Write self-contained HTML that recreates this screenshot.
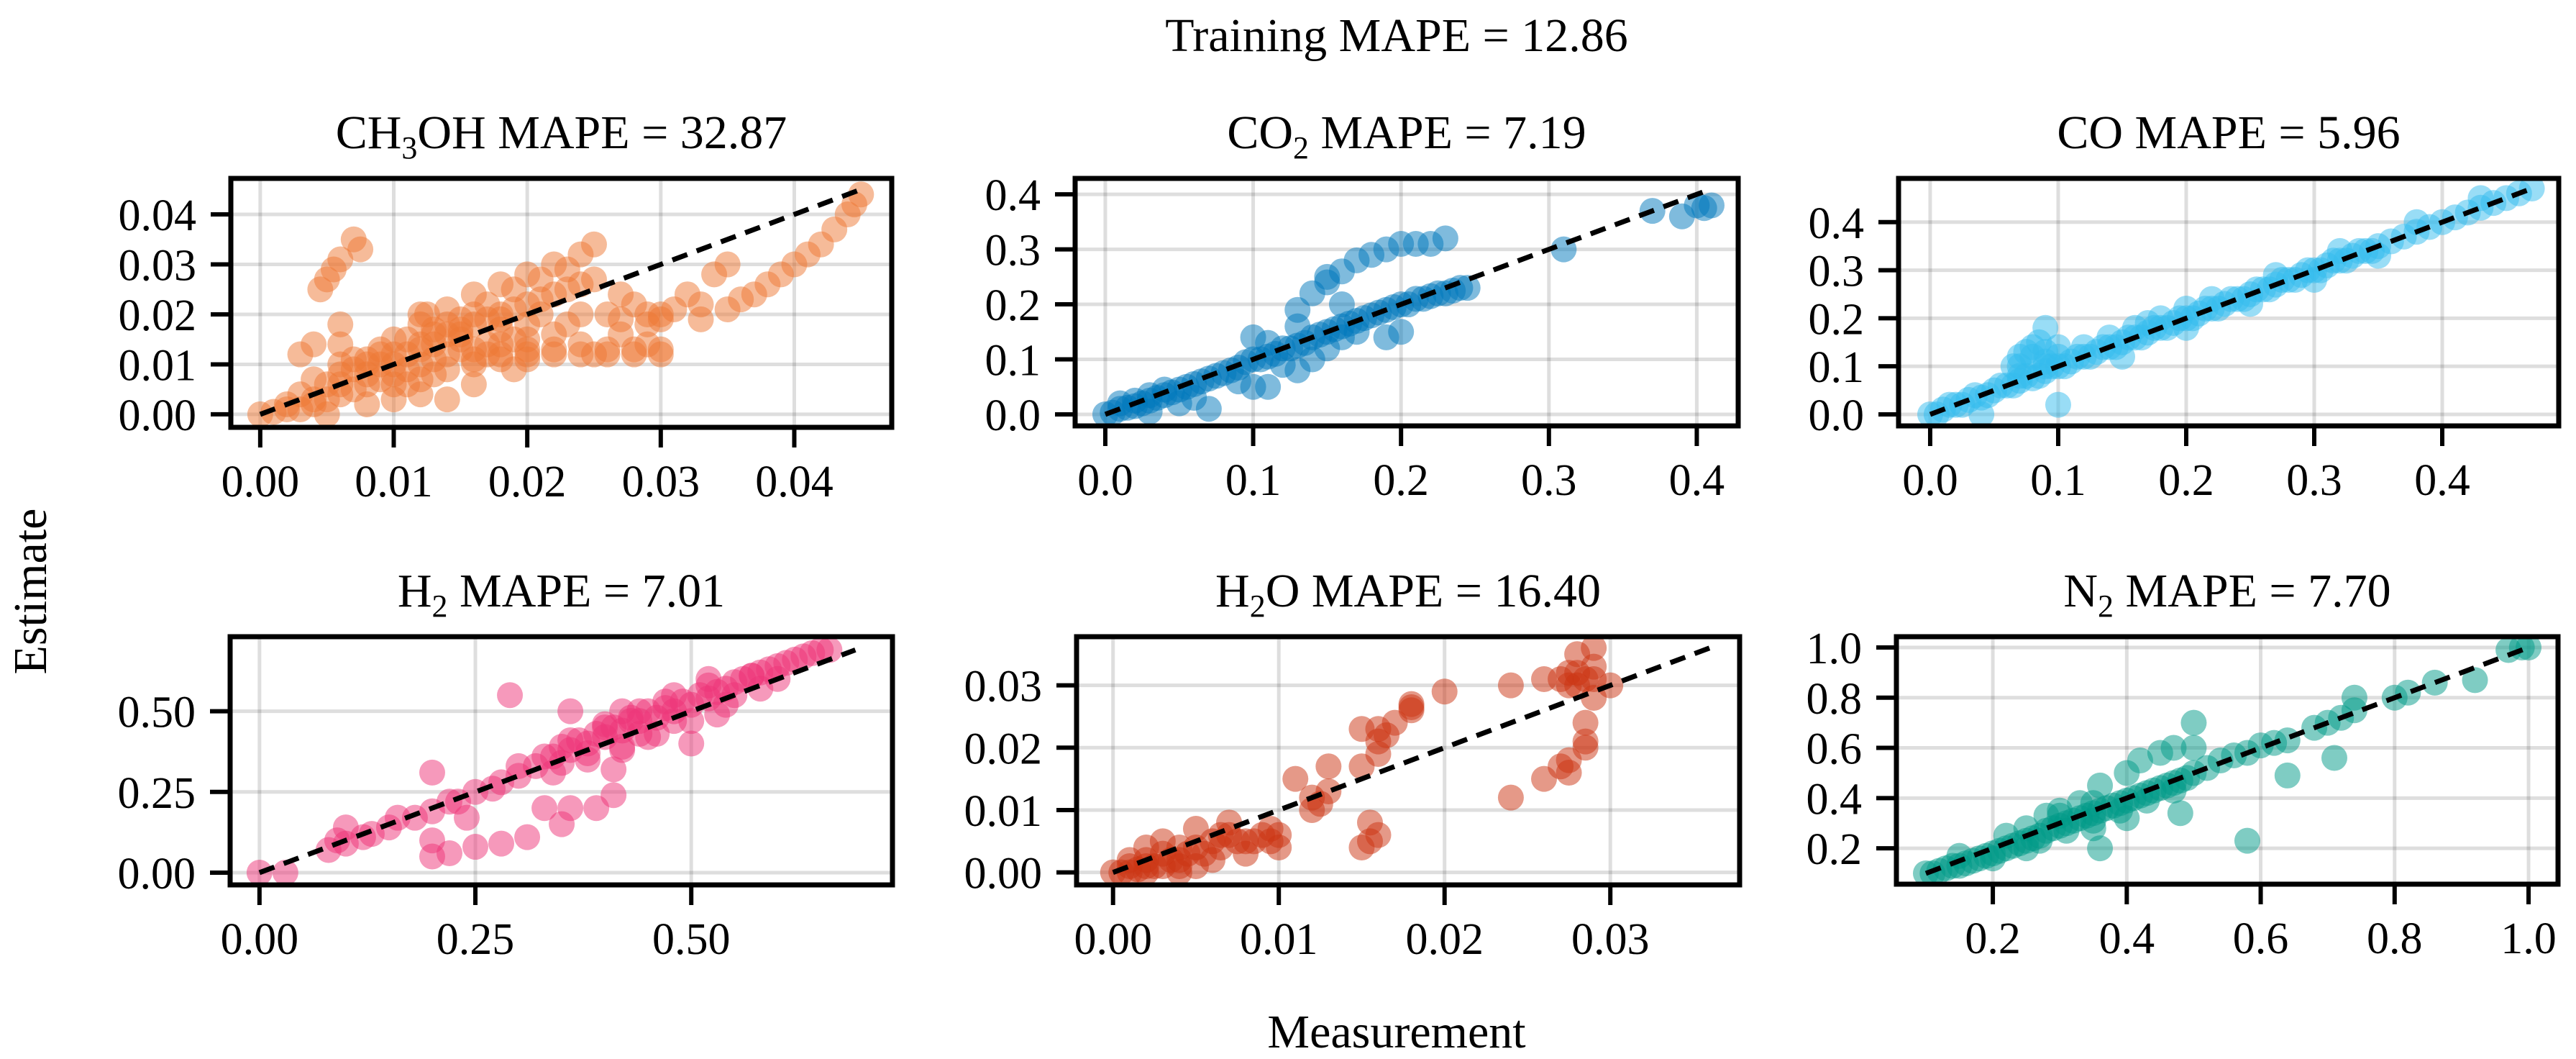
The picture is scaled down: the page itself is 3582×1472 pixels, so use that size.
<!DOCTYPE html>
<html><head><meta charset="utf-8"><style>
html,body{margin:0;padding:0;background:#fff;}
svg{display:block;font-family:"Liberation Serif",serif;}
</style></head><body>
<svg id="fig" width="3582" height="1472" viewBox="0 0 3582 1472" xmlns="http://www.w3.org/2000/svg">
<rect width="3582" height="1472" fill="#fff"/>
<text x="1942" y="71" font-size="66" text-anchor="middle">Training MAPE = 12.86</text>
<text x="1942" y="1456" font-size="66" text-anchor="middle">Measurement</text>
<text x="0" y="0" font-size="66" text-anchor="middle" transform="translate(64,822) rotate(-90)">Estimate</text>
</svg>
<script>
// ---- data (measurement, estimate) per species ----
const ch3ohX=[0,0.001,0.002,0.003,0.004,0.005,0.006,0.007,0.008,0.009,0.01,0.011,0.012,0.013,0.014,0.015,0.016,0.017,0.018,0.019,0.02,0.022,0.024,0.026,0.028,0.03,0.012,0.014,0.016,0.018,0.02,0.022,0.024,0.025,0.03,0.032,0.034,0.035,0.03,0.033,0.035,0.037,0.039,0.041,0.043,0.0445,0.045,0.011,0.013,0.015,0.018,0.021,0.024,0.027,0.029,0.0045,0.005,0.0055,0.006,0.007,0.0075,0.006,0.005,0.008,0.012,0.014,0.016,0.01,0.019,0.02,0.004,0.003,0.006,0.009,0.008,0.01,0.012,0.015,0.017,0.013,0.011,0.016,0.018,0.02,0.022,0.025,0.027,0.029,
0.005,0.006,0.007,0.008,0.009,0.01,0.011,0.012,0.013,0.014,0.015,0.016,0.017,0.018,0.019,0.02,0.021,0.022,0.023,0.024,0.025,0.019,0.021,0.023,0.017,0.015,0.013,0.012,0.01,0.009,0.007,0.006,0.004,0.003,0.002,0.004,0.006,0.008,0.01,0.012,0.014,0.016,0.018,0.02,0.022,0.024,0.026,0.028,0.03,0.031,0.033,0.036,0.038,0.04,0.042,0.044,0.026,0.028,0.027,0.029,0.023,0.016,0.014,0.0125,0.018,0.02];
const ch3ohY=[0,0.0005,0.001,0.001,0.002,0.003,0.004,0.005,0.006,0.007,0.008,0.009,0.01,0.011,0.012,0.013,0.013,0.014,0.014,0.015,0.015,0.016,0.014,0.013,0.013,0.013,0.02,0.021,0.024,0.026,0.028,0.03,0.032,0.034,0.02,0.024,0.028,0.03,0.019,0.019,0.021,0.024,0.028,0.032,0.037,0.042,0.044,0.015,0.016,0.017,0.019,0.02,0.02,0.019,0.02,0.025,0.027,0.029,0.031,0.035,0.033,0.018,0,0.002,0.004,0.003,0.006,0.003,0.009,0.011,0.014,0.012,0.014,0.012,0.01,0.012,0.014,0.015,0.012,0.008,0.006,0.01,0.011,0.013,0.013,0.012,0.016,0.014,
0.006,0.008,0.009,0.011,0.01,0.01,0.012,0.013,0.014,0.016,0.016,0.018,0.019,0.02,0.021,0.022,0.023,0.024,0.025,0.026,0.027,0.025,0.027,0.029,0.022,0.019,0.017,0.018,0.015,0.013,0.011,0.01,0.007,0.004,0.002,0.003,0.006,0.008,0.006,0.007,0.009,0.011,0.012,0.012,0.012,0.012,0.012,0.012,0.012,0.021,0.022,0.023,0.026,0.03,0.034,0.04,0.02,0.022,0.024,0.018,0.018,0.02,0.018,0.02,0.017,0.018];
const co2X=[0,0.01,0.02,0.03,0.04,0.05,0.06,0.07,0.08,0.09,0.1,0.11,0.12,0.13,0.14,0.15,0.16,0.17,0.18,0.19,0.2,0.21,0.22,0.23,0.24,0.245,0.05,0.06,0.07,0.09,0.1,0.11,0.13,0.12,0.1,0.11,0.14,0.15,0.2,0.19,0.13,0.13,0.14,0.15,0.16,0.17,0.18,0.19,0.2,0.21,0.22,0.23,0.15,0.16,0.31,0.37,0.39,0.4,0.41,0.405,0.01,0.03,
0.005,0.015,0.025,0.035,0.045,0.055,0.065,0.075,0.085,0.095,0.105,0.115,0.125,0.135,0.145,0.155,0.165,0.175,0.185,0.195,0.205,0.215,0.225,0.235,0.16,0.17,0.02,0.03,0.04];
const co2Y=[0,0.01,0.015,0.025,0.035,0.045,0.055,0.065,0.075,0.085,0.1,0.105,0.12,0.125,0.14,0.15,0.16,0.17,0.18,0.19,0.2,0.21,0.215,0.22,0.23,0.23,0.02,0.03,0.01,0.06,0.05,0.05,0.08,0.09,0.14,0.13,0.1,0.12,0.15,0.14,0.19,0.16,0.22,0.24,0.26,0.28,0.29,0.3,0.31,0.31,0.31,0.32,0.25,0.2,0.3,0.37,0.36,0.38,0.38,0.375,0.02,0.005,
0.003,0.012,0.02,0.03,0.04,0.05,0.06,0.07,0.08,0.095,0.1,0.11,0.12,0.13,0.145,0.155,0.165,0.175,0.185,0.195,0.2,0.21,0.22,0.225,0.14,0.15,0.025,0.035,0.045];
const coX=[0,0.01,0.02,0.03,0.04,0.05,0.06,0.07,0.08,0.09,0.1,0.11,0.12,0.13,0.14,0.15,0.16,0.17,0.18,0.19,0.2,0.21,0.22,0.23,0.24,0.25,0.26,0.27,0.28,0.29,0.3,0.31,0.32,0.33,0.34,0.35,0.36,0.37,0.38,0.39,0.4,0.41,0.42,0.43,0.44,0.45,0.46,0.47,0.07,0.08,0.09,0.1,0.07,0.08,0.09,0.1,0.09,0.1,0.04,0.15,0.2,0.25,0.3,0.35,0.12,0.17,0.22,0.27,0.32,0.38,0.43,
0.005,0.015,0.025,0.035,0.045,0.055,0.065,0.075,0.085,0.095,0.105,0.115,0.125,0.135,0.145,0.155,0.165,0.175,0.185,0.195,0.205,0.215,0.225,0.235,0.245,0.255,0.265,0.275,0.285,0.295,0.305,0.315,0.325,0.335,0.345,0.065,0.075,0.085,0.07,0.09,0.16,0.18,0.2,0.14];
const coY=[0,0.01,0.02,0.03,0.035,0.05,0.06,0.07,0.075,0.09,0.1,0.11,0.12,0.13,0.14,0.15,0.16,0.17,0.18,0.19,0.2,0.21,0.22,0.23,0.24,0.25,0.26,0.27,0.28,0.29,0.3,0.31,0.32,0.33,0.34,0.35,0.36,0.37,0.38,0.39,0.4,0.41,0.42,0.43,0.44,0.45,0.46,0.47,0.1,0.12,0.13,0.14,0.12,0.14,0.11,0.12,0.18,0.02,0,0.12,0.18,0.23,0.28,0.33,0.14,0.19,0.24,0.29,0.34,0.4,0.45,
0.0,0.02,0.02,0.04,0.04,0.06,0.06,0.08,0.08,0.1,0.1,0.12,0.12,0.14,0.14,0.16,0.16,0.18,0.18,0.2,0.2,0.22,0.22,0.24,0.24,0.26,0.26,0.28,0.28,0.3,0.3,0.32,0.32,0.34,0.34,0.1,0.13,0.15,0.08,0.1,0.18,0.2,0.22,0.16];
const h2X=[0,0.03,0.08,0.1,0.12,0.15,0.18,0.2,0.22,0.25,0.28,0.3,0.32,0.34,0.36,0.38,0.4,0.42,0.44,0.46,0.48,0.5,0.52,0.54,0.56,0.58,0.6,0.62,0.64,0.66,0.2,0.22,0.25,0.28,0.31,0.35,0.36,0.39,0.41,0.33,0.24,0.2,0.2,0.29,0.36,0.43,0.41,0.5,0.53,0.42,0.45,0.4,0.42,0.47,0.52,0.57,0.1,0.16,0.35,0.38,0.44,0.48,0.55,0.6,
0.3,0.33,0.35,0.37,0.39,0.41,0.43,0.45,0.47,0.49,0.51,0.53,0.55,0.57,0.59,0.61,0.63,0.65,0.34,0.38,0.42,0.46,0.5,0.54,0.58,0.36,0.4,0.44,0.48,0.52,0.27,0.23,0.13,0.09];
const h2Y=[0,0,0.07,0.09,0.11,0.14,0.17,0.19,0.22,0.25,0.28,0.3,0.33,0.36,0.38,0.4,0.42,0.44,0.47,0.48,0.5,0.52,0.54,0.57,0.6,0.62,0.64,0.66,0.68,0.69,0.05,0.06,0.08,0.09,0.11,0.15,0.2,0.2,0.24,0.2,0.17,0.1,0.31,0.55,0.5,0.48,0.32,0.4,0.49,0.38,0.42,0.45,0.5,0.53,0.6,0.61,0.14,0.17,0.34,0.37,0.43,0.47,0.55,0.6,
0.33,0.36,0.39,0.41,0.43,0.45,0.47,0.5,0.51,0.53,0.55,0.56,0.59,0.61,0.63,0.65,0.67,0.69,0.31,0.35,0.39,0.43,0.47,0.52,0.57,0.41,0.46,0.5,0.55,0.58,0.26,0.22,0.12,0.1];
const h2oX=[0,0.001,0.002,0.003,0.004,0.005,0.006,0.007,0.008,0.009,0.01,0.003,0.002,0.004,0.006,0.008,0.01,0.005,0.007,0.012,0.012,0.013,0.011,0.013,0.015,0.016,0.016,0.015,0.016,0.018,0.018,0.017,0.0155,0.015,0.016,0.0155,0.02,0.024,0.026,0.027,0.028,0.029,0.028,0.029,0.028,0.029,0.0285,0.0285,0.0275,0.0285,0.0275,0.026,0.024,0.027,0.03,0.001,0.002,0.004,
0.0005,0.0015,0.0025,0.0035,0.0045,0.0055,0.0065,0.0075,0.0085,0.0095,0.001,0.002,0.003,0.004,0.005,0.0065,0.0095,0.0125,0.0275,0.0285,0.0275,0.029,0.018,0.0165];
const h2oY=[0,0.001,0.002,0.003,0.004,0.004,0.005,0.006,0.005,0.006,0.006,0.005,0.004,0.002,0.002,0.003,0.004,0.007,0.008,0.012,0.01,0.013,0.015,0.017,0.017,0.021,0.019,0.023,0.023,0.026,0.027,0.024,0.008,0.004,0.006,0.005,0.029,0.03,0.031,0.031,0.032,0.033,0.035,0.036,0.03,0.028,0.024,0.021,0.018,0.02,0.016,0.015,0.012,0.017,0.03,0.0,0.001,0.001,
0.0,0.0005,0.001,0.002,0.003,0.003,0.004,0.005,0.005,0.005,0.002,0.0,0.001,0.0,0.001,0.006,0.007,0.011,0.03,0.031,0.032,0.031,0.0265,0.022];
const n2X=[0.1,0.12,0.14,0.16,0.18,0.2,0.22,0.24,0.26,0.28,0.3,0.32,0.34,0.36,0.38,0.4,0.42,0.44,0.46,0.48,0.5,0.52,0.54,0.56,0.58,0.6,0.62,0.64,0.68,0.7,0.72,0.74,0.8,0.82,0.86,0.97,0.99,1.0,0.3,0.33,0.36,0.4,0.42,0.45,0.47,0.5,0.5,0.48,0.36,0.58,0.64,0.71,0.92,0.74,0.2,0.25,0.15,0.35,0.4,0.28,0.22,
0.11,0.13,0.15,0.17,0.19,0.21,0.23,0.25,0.27,0.29,0.31,0.33,0.35,0.37,0.39,0.41,0.43,0.45,0.47,0.49,0.27,0.31,0.35,0.39,0.43,0.47,0.25,0.3,0.35];
const n2Y=[0.1,0.11,0.13,0.14,0.16,0.18,0.2,0.22,0.24,0.27,0.29,0.31,0.33,0.35,0.37,0.39,0.41,0.43,0.45,0.47,0.5,0.52,0.55,0.57,0.58,0.61,0.62,0.63,0.68,0.7,0.72,0.75,0.8,0.82,0.86,0.99,1.0,1.0,0.35,0.38,0.45,0.5,0.55,0.58,0.6,0.6,0.7,0.34,0.2,0.23,0.49,0.56,0.87,0.8,0.16,0.2,0.17,0.28,0.32,0.33,0.25,
0.1,0.12,0.13,0.15,0.17,0.19,0.21,0.23,0.25,0.28,0.3,0.32,0.34,0.36,0.38,0.4,0.42,0.44,0.46,0.48,0.23,0.27,0.31,0.35,0.39,0.43,0.28,0.33,0.38];
// tick values and labels
const ticks1=[0,0.01,0.02,0.03,0.04], labels1=["0.00","0.01","0.02","0.03","0.04"];
const ticks2=[0,0.1,0.2,0.3,0.4], labels2=["0.0","0.1","0.2","0.3","0.4"];
const ticks4=[0,0.25,0.5], labels4=["0.00","0.25","0.50"];
const ticks5=[0,0.01,0.02,0.03], labels5=["0.00","0.01","0.02","0.03"];
const ticks6=[0.2,0.4,0.6,0.8,1.0], labels6=["0.2","0.4","0.6","0.8","1.0"];

const NS="http://www.w3.org/2000/svg";
const svg=document.getElementById('fig');
function mk(tag,attrs,parent){const e=document.createElementNS(NS,tag);for(const k in attrs)e.setAttribute(k,attrs[k]);(parent||svg).appendChild(e);return e;}

const panels=[
 {key:'ch3oh',title:['CH','3','OH MAPE = 32.87'],color:'#EE7733',xs:ch3ohX,ys:ch3ohY,box:[321,248,1240,594],xd:[-0.0022,0.0473],yd:[-0.0026,0.0472],xt:ticks1,xl:labels1,yt:ticks1,yl:labels1},
 {key:'co2',title:['CO','2',' MAPE = 7.19'],color:'#0077BB',xs:co2X,ys:co2Y,box:[1495,248,2417,592],xd:[-0.0204,0.428],yd:[-0.021,0.429],xt:ticks2,xl:labels2,yt:ticks2,yl:labels2},
 {key:'co',title:['CO MAPE = 5.96'],color:'#33BBEE',xs:coX,ys:coY,box:[2640,248,3558,592],xd:[-0.0247,0.491],yd:[-0.024,0.491],xt:ticks2,xl:labels2,yt:ticks2,yl:labels2},
 {key:'h2',title:['H','2',' MAPE = 7.01'],color:'#EE3377',xs:h2X,ys:h2Y,box:[320,885,1241,1230],xd:[-0.034,0.733],yd:[-0.038,0.731],xt:ticks4,xl:labels4,yt:ticks4,yl:labels4},
 {key:'h2o',title:['H','2','O MAPE = 16.40'],color:'#CC3311',xs:h2oX,ys:h2oY,box:[1497,885,2419,1230],xd:[-0.0022,0.0378],yd:[-0.002,0.0378],xt:ticks5,xl:labels5,yt:ticks5,yl:labels5},
 {key:'n2',title:['N','2',' MAPE = 7.70'],color:'#009988',xs:n2X,ys:n2Y,box:[2637,885,3557,1229],xd:[0.056,1.044],yd:[0.057,1.043],xt:ticks6,xl:labels6,yt:ticks6,yl:labels6}
];

panels.forEach((p,pi)=>{
 const [L,T,R,B]=p.box;
 const sx=v=>L+(v-p.xd[0])/(p.xd[1]-p.xd[0])*(R-L);
 const sy=v=>B-(v-p.yd[0])/(p.yd[1]-p.yd[0])*(B-T);
 const g=mk('g',{});
 
 
 const cid='clip'+pi;
 const cp=mk('clipPath',{id:cid},g);mk('rect',{x:L,y:T,width:R-L,height:B-T},cp);
 p.xt.forEach(v=>{const l=mk('line',{x1:sx(v),x2:sx(v),y1:T,y2:B,stroke:'#000','stroke-opacity':0.13,'stroke-width':5},g);
  
  });
 p.yt.forEach(v=>{const l=mk('line',{x1:L,x2:R,y1:sy(v),y2:sy(v),stroke:'#000','stroke-opacity':0.13,'stroke-width':5},g);
  
  });
 const pg=mk('g',{'clip-path':'url(#'+cid+')'},g);
 p.xs.forEach((x,i)=>{const c=mk('circle',{cx:sx(x),cy:sy(p.ys[i]),r:18,fill:p.color,'fill-opacity':0.5},pg);
  
  });
 const mn=Math.min(Math.min(...p.xs),Math.min(...p.ys)), mx=Math.max(Math.max(...p.xs),Math.max(...p.ys));
 const dl=mk('line',{x1:sx(mn),y1:sy(mn),x2:sx(mx),y2:sy(mx),stroke:'#000','stroke-width':7,'stroke-dasharray':'22,14'},pg);
 
 
 const fr=mk('rect',{x:L,y:T,width:R-L,height:B-T,fill:'none',stroke:'#000','stroke-width':7},g);
 
 
 p.xt.forEach((v,i)=>{mk('line',{x1:sx(v),x2:sx(v),y1:B,y2:B+28,stroke:'#000','stroke-width':6},g);
  const t=mk('text',{x:sx(v),y:B+96,'font-size':62,'text-anchor':'middle'},g);t.textContent=p.xl[i];
  
  });
 p.yt.forEach((v,i)=>{mk('line',{x1:L-28,x2:L,y1:sy(v),y2:sy(v),stroke:'#000','stroke-width':6},g);
  const t=mk('text',{x:L-48,y:sy(v)+22,'font-size':62,'text-anchor':'end'},g);t.textContent=p.yl[i];
  
  });
 const tt=mk('text',{x:(L+R)/2,y:T-42,'font-size':66,'text-anchor':'middle'},g);
 
 
 p.title.forEach((s,i)=>{const ts=mk('tspan',{},tt);ts.textContent=s;
  if(i===1){ts.setAttribute('font-size','44');ts.setAttribute('dy','14');}
  if(i===2){ts.setAttribute('dy','-14');}});
});
</script>
</body></html>
